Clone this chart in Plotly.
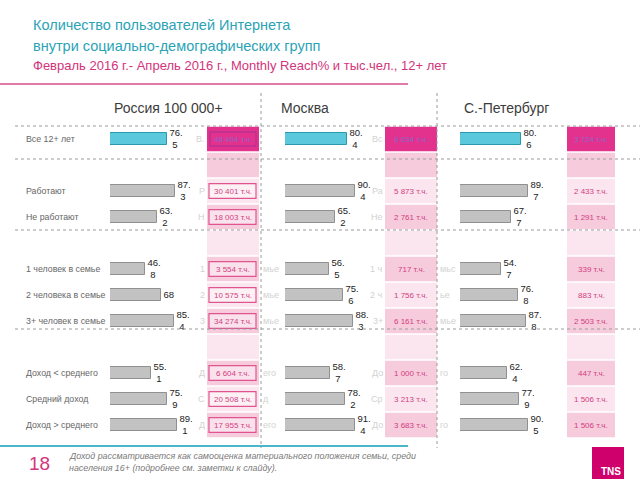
import plotly.graph_objects as go

W, H = 640, 480


def px(x):
    return x / W


def py(y):
    return 1 - y / H


FONT = "Liberation Sans, Arial, sans-serif"

# ---------------- data ----------------
groups = [
    ["Все 12+ лет"],
    ["Работают", "Не работают"],
    ["1 человек в семье", "2 человека в семье", "3+ человек в семье"],
    ["Доход < среднего", "Средний доход", "Доход > среднего"],
]
regions = ["Россия 100 000+", "Москва", "С.-Петербург"]

russia_pct = [76.5, 87.3, 63.2, 46.8, 68, 85.4, 55.1, 75.9, 89.1]
moscow_pct = [80.4, 90.4, 65.2, 56.5, 75.6, 88.3, 58.7, 78.2, 91.4]
spb_pct = [80.6, 89.7, 67.7, 54.7, 76.8, 87.8, 62.4, 77.9, 90.5]

russia_k = [48404, 30401, 18003, 3554, 10575, 34274, 6604, 20508, 17955]
moscow_k = [8634, 5873, 2761, 717, 1756, 6161, 1000, 3213, 3683]
spb_k = [3724, 2433, 1291, 339, 883, 2503, 447, 1506, 1506]

title1 = "Количество пользователей Интернета"
title2 = "внутри социально-демографических групп"
subtitle = "Февраль 2016 г.- Апрель 2016 г., Monthly Reach% и тыс.чел., 12+ лет"
footnote1 = "Доход рассматривается как самооценка материального положения семьи, среди"
footnote2 = "населения 16+ (подробнее см. заметки к слайду)."
page_no = "18"

# ---------------- derived ----------------
categories = [c for g in groups for c in g]
rows = []
r = 0
for g in groups:
    for c in g:
        rows.append(r)
        r += 1
    r += 1
n_rows = r - 1  # rows 0..11

ROW0, STEP = 139, 26  # pixel centre of first row, row pitch
y_range = [(H - ROW0) / STEP, -ROW0 / STEP]


def fmt_pct(v):
    s = f"{v:g}"
    if "." in s:
        a, b = s.split(".")
        return f"{a}.<br>{b}\u00a0"
    return s


def fmt_k(v):
    return f"{v:,}".replace(",", " ") + " т.ч."


TEAL_FILL, TEAL_LINE = "#5cc8dc", "#2a98ad"
GRAY_FILL, GRAY_LINE = "#c2c2c2", "#909090"
MAGENTA = "#e2328e"
PINK_MED = "#f6cbdc"
PINK_LIGHT = "#fbe5ee"
PINK_TEXT = "#d43d80"

fig = go.Figure()

panels = [
    ("x", russia_pct, 110, 75.0),
    ("x2", moscow_pct, 285, 77.0),
    ("x3", spb_pct, 460, 75.3),
]
for ax, vals, start, width100 in panels:
    colors = [TEAL_FILL] + [GRAY_FILL] * (len(vals) - 1)
    lines = [TEAL_LINE] + [GRAY_LINE] * (len(vals) - 1)
    fig.add_trace(go.Bar(
        x=vals, y=rows, orientation="h", xaxis=ax, yaxis="y",
        width=0.48,
        marker=dict(color=colors, line=dict(color=lines, width=1)),
        text=[fmt_pct(v) for v in vals], textposition="outside",
        constraintext="none",
        textfont=dict(family=FONT, size=9.5, color="#222222"),
        cliponaxis=False, showlegend=False, hoverinfo="skip",
    ))

axis_common = dict(showgrid=False, zeroline=False, showticklabels=False,
                   ticks="", showline=False, fixedrange=True)
layout_axes = {}
for ax, vals, start, width100 in panels:
    key = "xaxis" if ax == "x" else "xaxis" + ax[1:]
    layout_axes[key] = dict(domain=[px(start), px(start + width100)],
                            range=[0, 100], anchor="y", **axis_common)

fig.update_layout(
    width=W, height=H, margin=dict(l=0, r=0, t=0, b=0),
    paper_bgcolor="white", plot_bgcolor="rgba(0,0,0,0)",
    yaxis=dict(domain=[0, 1], range=y_range, anchor="x", **axis_common),
    bargap=0, font=dict(family=FONT),
    **layout_axes,
)

shapes = []
ann = []

# pink cell columns
columns = [(207, 259), (385, 437), (567, 615)]
for (x0, x1) in columns:
    for i in range(n_rows):
        if i == 0:
            col = MAGENTA
        else:
            col = PINK_MED if i % 2 == 1 else PINK_LIGHT
        shapes.append(dict(type="rect", xref="paper", yref="y",
                           x0=px(x0), x1=px(x1), y0=i - 0.47, y1=i + 0.47,
                           fillcolor=col, line=dict(width=0), layer="below"))

# Russia framed boxes
for k, i in enumerate(rows):
    if k == 0:
        shapes.append(dict(type="rect", xref="paper", yref="y",
                           x0=px(210), x1=px(256), y0=i - 0.27, y1=i + 0.27,
                           fillcolor="rgba(0,0,0,0)",
                           line=dict(color="#a53196", width=1), layer="above"))
    else:
        shapes.append(dict(type="rect", xref="paper", yref="y",
                           x0=px(209), x1=px(256), y0=i - 0.28, y1=i + 0.28,
                           fillcolor="rgba(255,255,255,0.45)",
                           line=dict(color="#e0558f", width=1.2), layer="above"))

# cell texts
for (x0, x1), vals in zip(columns, [russia_k, moscow_k, spb_k]):
    for k, (i, v) in enumerate(zip(rows, vals)):
        ann.append(dict(x=px((x0 + x1) / 2), y=i, xref="paper", yref="y",
                        text=fmt_k(v), showarrow=False, xanchor="center",
                        yanchor="middle",
                        font=dict(family=FONT, size=8,
                                  color="#8a66c8" if k == 0 else PINK_TEXT)))

# ghost (partly hidden) label fragments
ghost = "#d2d2d2"
frag_sets = [
    (207, "right", ["В.", "Р", "Н", "1", "2", "3", "Д", "С", "Д"]),
    (261, "left", ["", "", "", "мье", "мье", "мье", "его", "д", "его"]),
    (385, "right", ["Вс", "Ра", "Не", "1 ч", "2 ч", "3+", "До", "Ср", "До"]),
    (438, "left", ["", "", "", "мьс", "ье", "мье", "го", "", "го"]),
]
for xpos, anchor, texts in frag_sets:
    for i, t in zip(rows, texts):
        if t:
            ann.append(dict(x=px(xpos), y=i, xref="paper", yref="y", text=t,
                            showarrow=False, xanchor=anchor, yanchor="middle",
                            font=dict(family=FONT, size=9, color=ghost)))

# category labels
for i, c in zip(rows, categories):
    ann.append(dict(x=px(24), y=i, xref="paper", yref="y", text=c,
                    showarrow=False, xanchor="left", yanchor="middle",
                    font=dict(family=FONT, size=8.8, color="#666666")))

# dashed horizontal separators
for yy in [126, 159, 230, 329]:
    shapes.append(dict(type="line", xref="paper", yref="paper",
                       x0=px(15), x1=px(640), y0=py(yy), y1=py(yy),
                       line=dict(color="#9a9a9a", width=1, dash="dot"),
                       layer="above"))
# dotted vertical separators
for xx in [261, 437]:
    shapes.append(dict(type="line", xref="paper", yref="paper",
                       x0=px(xx), x1=px(xx), y0=py(93), y1=py(448),
                       line=dict(color="#9a9a9a", width=1, dash="dot"),
                       layer="below"))

# region headers
for name, cx in zip(regions, [168, 305, 506]):
    ann.append(dict(x=px(cx), y=py(108), xref="paper", yref="paper",
                    text=name, showarrow=False, xanchor="center",
                    yanchor="middle",
                    font=dict(family=FONT, size=14, color="#3c3c3c")))

# titles
ann.append(dict(x=px(31), y=py(25), xref="paper", yref="paper", text=title1,
                showarrow=False, xanchor="left", yanchor="middle",
                font=dict(family=FONT, size=14.5, color="#2ba3b6")))
ann.append(dict(x=px(31), y=py(46), xref="paper", yref="paper", text=title2,
                showarrow=False, xanchor="left", yanchor="middle",
                font=dict(family=FONT, size=14.5, color="#2ba3b6")))
ann.append(dict(x=px(31), y=py(66), xref="paper", yref="paper", text=subtitle,
                showarrow=False, xanchor="left", yanchor="middle",
                font=dict(family=FONT, size=13, color="#d2347c")))
shapes.append(dict(type="line", xref="paper", yref="paper",
                   x0=0, x1=px(408), y0=py(84), y1=py(84),
                   line=dict(color="#e07aa6", width=2)))

# footer
shapes.append(dict(type="line", xref="paper", yref="paper",
                   x0=0, x1=px(408), y0=py(446), y1=py(446),
                   line=dict(color="#4cb6c6", width=2)))
ann.append(dict(x=px(27), y=py(463), xref="paper", yref="paper", text=page_no,
                showarrow=False, xanchor="left", yanchor="middle",
                font=dict(family=FONT, size=19, color="#d2347c")))
ann.append(dict(x=px(67), y=py(456), xref="paper", yref="paper",
                text="<i>" + footnote1 + "</i>", showarrow=False,
                xanchor="left", yanchor="middle",
                font=dict(family=FONT, size=8.9, color="#7a7a7a")))
ann.append(dict(x=px(67), y=py(468), xref="paper", yref="paper",
                text="<i>" + footnote2 + "</i>", showarrow=False,
                xanchor="left", yanchor="middle",
                font=dict(family=FONT, size=8.9, color="#7a7a7a")))
shapes.append(dict(type="rect", xref="paper", yref="paper",
                   x0=px(592), x1=px(624), y0=py(479), y1=py(447),
                   fillcolor="#cf006c", line=dict(width=0)))
ann.append(dict(x=px(623), y=py(471), xref="paper", yref="paper",
                text="<b>TNS</b>", showarrow=False, xanchor="right",
                yanchor="middle",
                font=dict(family=FONT, size=10, color="white")))

fig.update_layout(shapes=shapes, annotations=ann)
fig.write_html("out.html")
